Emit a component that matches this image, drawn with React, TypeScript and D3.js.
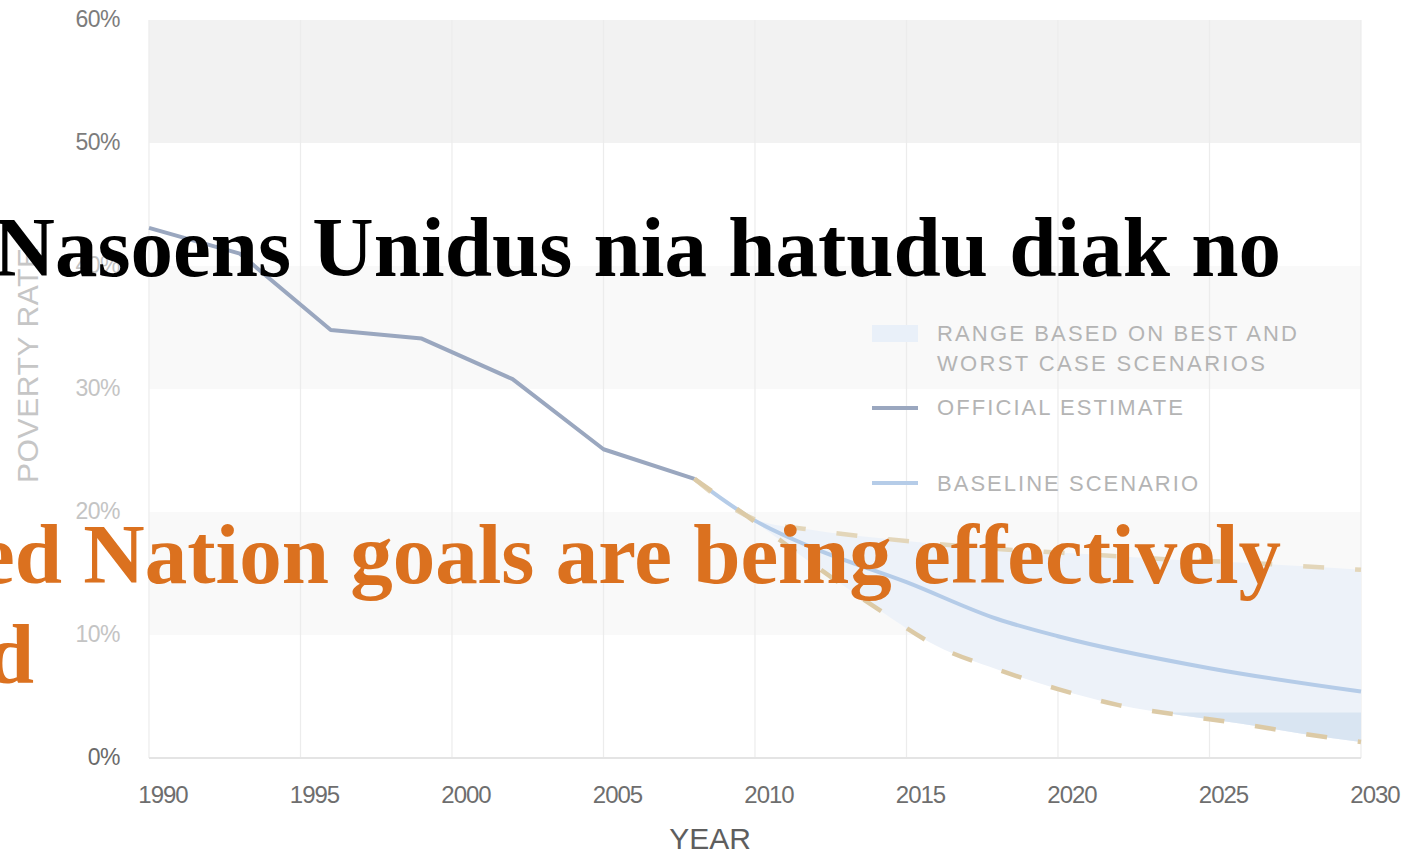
// Poverty rate 1990–2030: official estimate, baseline projection and the
// best/worst-case range, with the slide's overlaid headline text on top.
import * as d3 from "d3";

const W = 1416;
const H = 853;

// axes
const X_TICKS = [1990, 1995, 2000, 2005, 2010, 2015, 2020, 2025, 2030];
const Y_TICKS = [0, 10, 20, 30, 40, 50, 60];
const SHADED_BANDS = [
  [50, 60],
  [30, 40],
  [10, 20],
];

// series (percent of population)
const officialYears = [1990, 1993, 1996, 1999, 2002, 2005, 2008];
const officialRate = [43.1, 41.0, 34.8, 34.1, 30.8, 25.1, 22.7];

const baselineYears = [2008, 2010, 2012, 2015, 2018, 2020, 2025, 2030];
const baselineRate = [22.7, 19.3, 17.0, 14.3, 11.3, 9.9, 7.3, 5.4];

const scenarioYears = [2008, 2010, 2012, 2014, 2016, 2018, 2020, 2022, 2024, 2026, 2028, 2030];
const worstRate = [22.7, 19.4, 18.5, 17.9, 17.4, 17.0, 16.7, 16.4, 16.1, 15.9, 15.6, 15.3];
const bestRate = [22.7, 19.2, 15.6, 12.2, 9.1, 7.2, 5.6, 4.3, 3.5, 2.8, 2.0, 1.3];
const DEEP_FILL_BELOW = 3.7; // range fill turns a shade darker under this rate

const legendLabels = [
  ["RANGE BASED ON BEST AND", "WORST CASE SCENARIOS"],
  ["OFFICIAL ESTIMATE"],
  ["BASELINE SCENARIO"],
];

const headline = "Nasoens Unidus nia hatudu diak no";
const subline = ["ed Nation goals are being effectively", "d"];

const x = d3.scaleLinear().domain([1990, 2030]).range([149, 1361]);
const y = d3.scaleLinear().domain([0, 60]).range([758, 20]);

const sans = "'Liberation Sans', Arial, sans-serif";
const serif = "'Liberation Serif', 'Times New Roman', serif";

export default function App() {
  const line = d3
    .line<[number, number]>()
    .x((d) => x(d[0]))
    .y((d) => y(d[1]));
  const smooth = line.curve(d3.curveMonotoneX);
  const officialPath = d3
    .line<[number, number]>()
    .x((d) => x(d[0]))
    .y((d) => y(d[1]))(officialYears.map((yr, i) => [yr, officialRate[i]]));
  const baselinePath = smooth(baselineYears.map((yr, i) => [yr, baselineRate[i]]));
  const worstPath = smooth(scenarioYears.map((yr, i) => [yr, worstRate[i]]));
  const bestPath = smooth(scenarioYears.map((yr, i) => [yr, bestRate[i]]));
  const rangePath = d3
    .area<number>()
    .x((yr) => x(yr))
    .y0((_yr, i) => y(bestRate[i]))
    .y1((_yr, i) => y(worstRate[i]))
    .curve(d3.curveMonotoneX)(scenarioYears);

  const x0 = x(1990);
  const x1 = x(2030);
  const legendX = 872;
  const legendTextX = 937;
  const textWidths = [[360, 328], [246], [261]];
  const legendRowY = [[341, 371], [415], [491]];

  const yLabelFill = (v: number) => (v >= 50 ? "#7c7c7c" : v === 0 ? "#6a6a6a" : "#c4c4c4");

  return (
    <svg width={W} height={H} viewBox={`0 0 ${W} ${H}`} style={{ display: "block", background: "#fff" }}>
      <style>{`body{margin:0}`}</style>
      <defs>
        <clipPath id="deep">
          <rect x={x0} y={y(DEEP_FILL_BELOW)} width={x1 - x0} height={y(0) - y(DEEP_FILL_BELOW)} />
        </clipPath>
      </defs>

      {/* alternating bands */}
      {SHADED_BANDS.map(([lo, hi], i) => (
        <rect
          key={lo}
          x={x0}
          y={y(hi)}
          width={x1 - x0}
          height={y(lo) - y(hi)}
          fill={i === 0 ? "#f2f2f2" : "#f9f9f9"}
        />
      ))}

      {/* vertical grid */}
      {X_TICKS.map((t) => (
        <line key={t} x1={x(t)} x2={x(t)} y1={y(60)} y2={y(0)} stroke="#ececec" strokeWidth={1.2} />
      ))}
      <line x1={x0} x2={x1} y1={y(0)} y2={y(0)} stroke="#e4e4e4" strokeWidth={2} />

      {/* y ticks */}
      {Y_TICKS.map((v) => (
        <text
          key={v}
          x={120}
          y={y(v) + 7}
          textAnchor="end"
          fontFamily={sans}
          fontSize={23}
          letterSpacing={-0.5}
          fill={yLabelFill(v)}
        >
          {`${v}%`}
        </text>
      ))}
      <text
        transform={`translate(38,483) rotate(-90)`}
        fontFamily={sans}
        fontSize={30}
        letterSpacing={0.6}
        fill="#c6c6c6"
      >
        POVERTY RATE
      </text>

      {/* x ticks */}
      {X_TICKS.map((t) => (
        <text
          key={t}
          x={x(t) + 14}
          y={803}
          textAnchor="middle"
          fontFamily={sans}
          fontSize={24}
          letterSpacing={-1}
          fill="#6e6e6e"
        >
          {t}
        </text>
      ))}
      <text x={710} y={849} textAnchor="middle" fontFamily={sans} fontSize={30} fill="#5e5e5e">
        YEAR
      </text>

      {/* range */}
      <path d={rangePath ?? ""} fill="#edf2f9" />
      <path d={rangePath ?? ""} fill="#d9e5f2" clipPath="url(#deep)" />

      {/* lines */}
      <path d={officialPath ?? ""} fill="none" stroke="#9aa7bf" strokeWidth={4} strokeLinejoin="round" />
      <path d={baselinePath ?? ""} fill="none" stroke="#b5cce8" strokeWidth={4} />
      <path d={worstPath ?? ""} fill="none" stroke="#e3d6ba" strokeWidth={4.5} strokeDasharray="21 31" />
      <path d={bestPath ?? ""} fill="none" stroke="#dccaa6" strokeWidth={4.5} strokeDasharray="21 31" />

      {/* legend */}
      <rect x={legendX} y={325} width={46} height={17} fill="#e9f0f9" />
      <line x1={legendX} x2={legendX + 46} y1={408} y2={408} stroke="#9aa7bf" strokeWidth={4} />
      <line x1={legendX} x2={legendX + 46} y1={483} y2={483} stroke="#b5cce8" strokeWidth={4} />
      {legendLabels.map((rows, i) =>
        rows.map((label, j) => (
          <text
            key={`${i}-${j}`}
            x={legendTextX}
            y={legendRowY[i][j]}
            fontFamily={sans}
            fontSize={22}
            fill="#b4b4b4"
            textLength={textWidths[i][j]}
            lengthAdjust="spacing"
          >
            {label}
          </text>
        ))
      )}

      {/* slide headline overlaid on the chart */}
      <text x={1281} y={276} textAnchor="end" fontFamily={serif} fontWeight="bold" fontSize={85} fill="#000">
        {headline}
      </text>
      {subline.map((s, i) => (
        <text
          key={i}
          x={i === 0 ? 1281 : 34}
          y={583 + i * 100}
          textAnchor="end"
          fontFamily={serif}
          fontWeight="bold"
          fontSize={85}
          fill="#db711f"
        >
          {s}
        </text>
      ))}
    </svg>
  );
}
